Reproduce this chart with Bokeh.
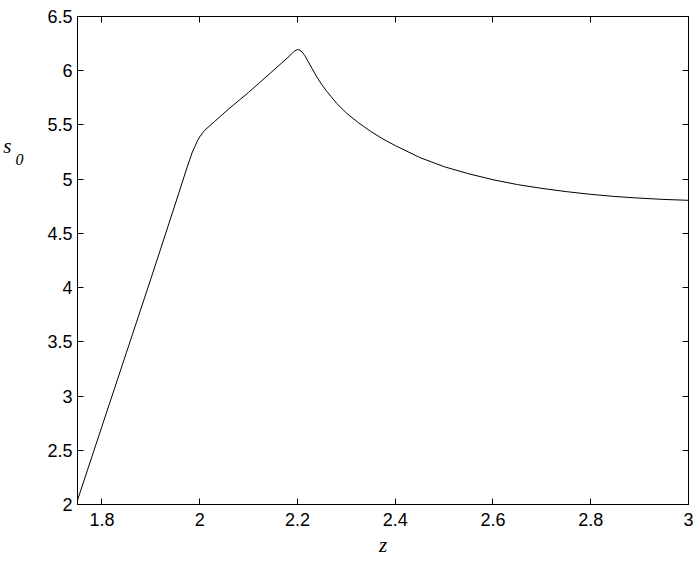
from bokeh.plotting import figure
from bokeh.models import LinearAxis, FixedTicker, Range1d
from bokeh.embed import file_html
from bokeh.resources import INLINE

# ---- data ----
z_vals = [1.75, 1.80, 1.85, 1.90, 1.95, 1.975, 1.985, 1.99, 1.995, 2.00, 2.01, 2.03,
          2.06, 2.10, 2.15, 2.18, 2.19, 2.195, 2.20, 2.205, 2.21, 2.215, 2.22, 2.23,
          2.24, 2.25, 2.26, 2.28, 2.30, 2.325, 2.35, 2.375, 2.40, 2.45, 2.50, 2.55,
          2.60, 2.65, 2.70, 2.75, 2.80, 2.85, 2.90, 2.95, 3.00]
s0_vals = [2.04, 2.72, 3.40, 4.08, 4.77, 5.12, 5.25, 5.30, 5.35, 5.39, 5.45, 5.53,
           5.65, 5.80, 6.00, 6.12, 6.165, 6.185, 6.195, 6.19, 6.17, 6.14, 6.10, 6.02,
           5.94, 5.87, 5.81, 5.70, 5.61, 5.52, 5.44, 5.37, 5.31, 5.20, 5.115, 5.05,
           4.995, 4.95, 4.915, 4.885, 4.86, 4.84, 4.825, 4.813, 4.805]

x_ticks = [1.8, 2.0, 2.2, 2.4, 2.6, 2.8, 3.0]
x_tick_labels = ["1.8", "2", "2.2", "2.4", "2.6", "2.8", "3"]
y_ticks = [2.0, 2.5, 3.0, 3.5, 4.0, 4.5, 5.0, 5.5, 6.0, 6.5]
y_tick_labels = ["2", "2.5", "3", "3.5", "4", "4.5", "5", "5.5", "6", "6.5"]

x_label = "z"
y_label_main = "s"
y_label_sub = "0"

TICK_FONT = "Liberation Sans"
TICK_SIZE = "18px"
TITLE_FONT = "Liberation Serif"

p = figure(width=699, height=561, output_backend="svg", toolbar_location=None,
           x_range=Range1d(1.75, 3.0), y_range=Range1d(2.0, 6.5),
           min_border_left=68, min_border_right=11, min_border_top=16, min_border_bottom=57)
p.background_fill_color = "white"
p.border_fill_color = "white"
p.outline_line_color = "black"
p.outline_line_width = 1
p.xgrid.visible = False
p.ygrid.visible = False

p.line(z_vals, s0_vals, line_color="black", line_width=1)


def style_axis(ax, ticks, labels, show_labels, standoff):
    ax.ticker = FixedTicker(ticks=ticks)
    ax.major_label_overrides = {t: l for t, l in zip(ticks, labels)}
    ax.major_tick_in = 6
    ax.major_tick_out = 0
    ax.minor_tick_line_color = None
    ax.major_tick_line_color = "black"
    ax.axis_line_color = "black"
    ax.major_label_text_font = TICK_FONT
    if show_labels:
        ax.major_label_text_color = "black"
        ax.major_label_text_font_size = TICK_SIZE
        ax.major_label_standoff = standoff
    else:
        ax.major_label_text_color = None
        ax.major_label_text_font_size = "1px"
        ax.major_label_standoff = 0


style_axis(p.xaxis[0], x_ticks, x_tick_labels, True, 8)
style_axis(p.yaxis[0], y_ticks, y_tick_labels, True, 5)

top_ax = LinearAxis()
style_axis(top_ax, x_ticks, x_tick_labels, False, 0)
p.add_layout(top_ax, "above")
right_ax = LinearAxis()
style_axis(right_ax, y_ticks, y_tick_labels, False, 0)
p.add_layout(right_ax, "right")


def title_axis(text, pos, size, standoff):
    ax = LinearAxis()
    ax.ticker = FixedTicker(ticks=[pos])
    ax.major_label_overrides = {pos: text}
    ax.major_tick_in = 0
    ax.major_tick_out = 0
    ax.major_tick_line_color = None
    ax.minor_tick_line_color = None
    ax.axis_line_color = None
    ax.major_label_text_font = TITLE_FONT
    ax.major_label_text_font_style = "italic"
    ax.major_label_text_font_size = size
    ax.major_label_text_color = "black"
    ax.major_label_standoff = standoff
    return ax


# y-axis title "s" with subscript "0" (horizontal, as in the reference)
p.add_layout(title_axis(y_label_sub, 5.178, "16px", 21), "left")
p.add_layout(title_axis(y_label_main, 5.305, "21px", 1), "left")
# x-axis title "z"
p.add_layout(title_axis(x_label, 2.375, "21px", 4), "below")

open("out.html", "w").write(file_html(p, INLINE))
